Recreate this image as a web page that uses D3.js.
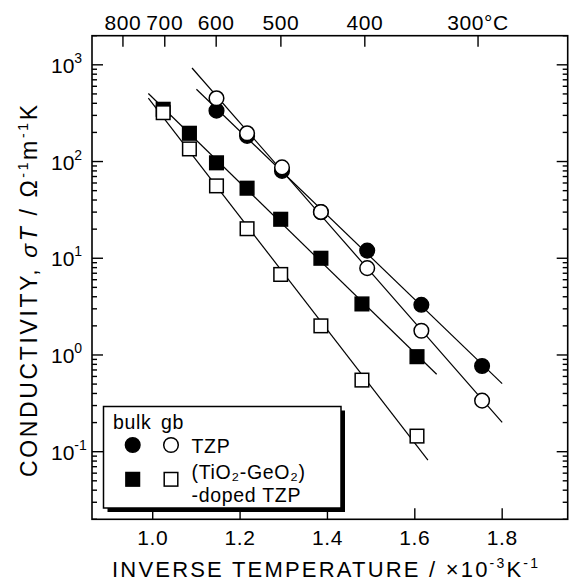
<!DOCTYPE html>
<html>
<head>
<meta charset="utf-8">
<script src="https://cdn.jsdelivr.net/npm/d3@7"></script>
<style>
  body { margin: 0; background: #fff; }
  svg { display: block; font-family: 'Liberation Sans', Arial, Helvetica, sans-serif; }
</style>
</head>
<body>
<div id="chart"></div>
<script>
// inverse temperature (1000/T, K^-1) of the measurements
const tzpInvT = [1.146, 1.216, 1.296, 1.385, 1.491, 1.615, 1.754];
const tzpBulk = [336, 184, 80, 30, 12.0, 3.3, 0.77];
const tzpGb = [451, 196, 87, 30.1, 7.9, 1.78, 0.337];

const dopedInvT = [1.024, 1.084, 1.146, 1.216, 1.293, 1.385, 1.479, 1.605];
const dopedBulk = [347, 196, 97, 53, 25.3, 10.0, 3.37, 0.96];
const dopedGb = [320, 135, 56, 20.2, 6.8, 2.0, 0.55, 0.145];

// x-extent of each Arrhenius fit line: tzp bulk, tzp gb, doped bulk, doped gb
const fitStart = [1.10, 1.09, 0.99, 0.99];
const fitEnd = [1.80, 1.80, 1.65, 1.63];

const xTicks = [1.0, 1.2, 1.4, 1.6, 1.8];
const celsiusTicks = [800, 700, 600, 500, 400, 300];
const celsiusLabels = ['800', '700', '600', '500', '400', '300°C'];
const yMajor = [0.1, 1, 10, 100, 1000];
const yExp = ['-1', '0', '1', '2', '3'];

const W = 572;
const H = 581;
const margin = { left: 92, right: 4.3, top: 35.7, bottom: 61.7 };

const svg = d3.select('#chart')
  .append('svg')
  .attr('width', W)
  .attr('height', H);

const x = d3.scaleLinear()
  .domain([0.861, 1.95])
  .range([margin.left, W - margin.right]);

const y = d3.scaleLog()
  .domain([0.02, 2000])
  .range([H - margin.bottom, margin.top]);

const x0 = x.range()[0];
const x1 = x.range()[1];
const y0 = y.range()[0];
const y1 = y.range()[1];

// ticks (all pointing inward)
const tickG = svg.append('g')
  .attr('stroke', '#000')
  .attr('stroke-width', 1.4);

const minor = y.ticks().filter(v => {
  const m = v / Math.pow(10, Math.floor(Math.log10(v) + 1e-9));
  return Math.abs(m - 1) > 1e-6;
});

minor.forEach(v => {
  tickG.append('line').attr('x1', x0).attr('x2', x0 + 5).attr('y1', y(v)).attr('y2', y(v));
  tickG.append('line').attr('x1', x1).attr('x2', x1 - 5).attr('y1', y(v)).attr('y2', y(v));
});
yMajor.forEach(v => {
  tickG.append('line').attr('x1', x0).attr('x2', x0 + 11).attr('y1', y(v)).attr('y2', y(v));
  tickG.append('line').attr('x1', x1).attr('x2', x1 - 11).attr('y1', y(v)).attr('y2', y(v));
});
xTicks.forEach(v => {
  tickG.append('line').attr('x1', x(v)).attr('x2', x(v)).attr('y1', y0).attr('y2', y0 - 11);
});
celsiusTicks.forEach(c => {
  const v = 1000 / (c + 273.15);
  tickG.append('line').attr('x1', x(v)).attr('x2', x(v)).attr('y1', y1).attr('y2', y1 + 11);
});

// frame
svg.append('rect')
  .attr('x', x0)
  .attr('y', y1)
  .attr('width', x1 - x0)
  .attr('height', y0 - y1)
  .attr('fill', 'none')
  .attr('stroke', '#000')
  .attr('stroke-width', 1.6);

// tick labels
svg.append('g')
  .selectAll('text')
  .data(xTicks)
  .enter()
  .append('text')
  .attr('x', d => x(d))
  .attr('y', 545)
  .attr('text-anchor', 'middle')
  .attr('font-size', 21)
  .attr('letter-spacing', 0.6)
  .text(d => d.toFixed(1));

svg.append('g')
  .selectAll('text')
  .data(celsiusTicks)
  .enter()
  .append('text')
  .attr('x', d => x(1000 / (d + 273.15)))
  .attr('y', 29.5)
  .attr('text-anchor', 'middle')
  .attr('font-size', 21)
  .attr('letter-spacing', 0.6)
  .text((d, i) => celsiusLabels[i]);

yMajor.forEach((v, i) => {
  const t = svg.append('text')
    .attr('x', 51)
    .attr('y', y(v) + 8)
    .attr('font-size', 21)
    .text('10');
  t.append('tspan')
    .attr('dy', -10)
    .attr('font-size', 14)
    .text(yExp[i]);
});

// axis titles
const xt = svg.append('text')
  .attr('x', 112)
  .attr('y', 577)
  .attr('font-size', 22)
  .attr('textLength', 426)
  .attr('lengthAdjust', 'spacing');
xt.append('tspan').text('INVERSE TEMPERATURE / ×10');
xt.append('tspan').attr('dy', -9).attr('font-size', 14).text('-3');
xt.append('tspan').attr('dy', 9).text('K');
xt.append('tspan').attr('dy', -9).attr('font-size', 14).text('-1');

const yt = svg.append('text')
  .attr('transform', 'translate(37,477) rotate(-90)')
  .attr('font-size', 23)
  .attr('textLength', 372)
  .attr('lengthAdjust', 'spacing');
yt.append('tspan').text('CONDUCTIVITY, ');
yt.append('tspan').attr('font-style', 'italic').text('σT');
yt.append('tspan').text(' / Ω');
yt.append('tspan').attr('dy', -9).attr('font-size', 14).text('-1');
yt.append('tspan').attr('dy', 9).text('m');
yt.append('tspan').attr('dy', -9).attr('font-size', 14).text('-1');
yt.append('tspan').attr('dy', 9).text('K');

// Arrhenius fit lines (least squares on log10 of the points)
function fit(xs, ys) {
  const ly = ys.map(v => Math.log10(v));
  const mx = d3.mean(xs);
  const my = d3.mean(ly);
  const b = d3.sum(xs, (v, i) => (v - mx) * (ly[i] - my)) / d3.sum(xs, v => (v - mx) * (v - mx));
  return v => Math.pow(10, my + b * (v - mx));
}

const series = [
  { xs: tzpInvT, ys: tzpBulk, shape: 'circle', fill: '#000' },
  { xs: tzpInvT, ys: tzpGb, shape: 'circle', fill: '#fff' },
  { xs: dopedInvT, ys: dopedBulk, shape: 'square', fill: '#000' },
  { xs: dopedInvT, ys: dopedGb, shape: 'square', fill: '#fff' },
];

const line = d3.line()
  .x(d => x(d[0]))
  .y(d => y(d[1]));

const lineG = svg.append('g')
  .attr('fill', 'none')
  .attr('stroke', '#000')
  .attr('stroke-width', 1.2);

series.forEach((s, i) => {
  const f = fit(s.xs, s.ys);
  lineG.append('path')
    .attr('d', line([[fitStart[i], f(fitStart[i])], [fitEnd[i], f(fitEnd[i])]]));
});

// markers: bulk first, gb drawn on top
const markG = svg.append('g');
function drawMark(g, shape, cx, cy, fill) {
  if (shape === 'circle') {
    g.append('circle')
      .attr('cx', cx)
      .attr('cy', cy)
      .attr('r', 7.3)
      .attr('fill', fill)
      .attr('stroke', '#000')
      .attr('stroke-width', 1.5);
  } else {
    g.append('rect')
      .attr('x', cx - 6.8)
      .attr('y', cy - 6.8)
      .attr('width', 13.6)
      .attr('height', 13.6)
      .attr('fill', fill)
      .attr('stroke', '#000')
      .attr('stroke-width', 1.5);
  }
}

[2, 3, 0, 1].forEach(i => {
  const s = series[i];
  s.xs.forEach((v, j) => drawMark(markG, s.shape, x(v), y(s.ys[j]), s.fill));
});

// legend
const lg = svg.append('g');
lg.append('rect')
  .attr('x', 107.5)
  .attr('y', 410.5)
  .attr('width', 237.5)
  .attr('height', 101.5)
  .attr('fill', '#000');
lg.append('rect')
  .attr('x', 103.5)
  .attr('y', 406.5)
  .attr('width', 237.5)
  .attr('height', 101.5)
  .attr('fill', '#fff')
  .attr('stroke', '#000')
  .attr('stroke-width', 1.5);

const legendFont = 19.5;
lg.append('text').attr('x', 113).attr('y', 428.5).attr('font-size', legendFont).attr('letter-spacing', 0.7).text('bulk');
lg.append('text').attr('x', 161).attr('y', 428.5).attr('font-size', legendFont).attr('letter-spacing', 0.7).text('gb');
drawMark(lg, 'circle', 132.7, 445, '#000');
drawMark(lg, 'circle', 171, 445, '#fff');
drawMark(lg, 'square', 132.7, 479.3, '#000');
drawMark(lg, 'square', 171, 479.3, '#fff');
lg.append('text').attr('x', 191.5).attr('y', 453).attr('font-size', legendFont).attr('letter-spacing', 0.7).text('TZP');
lg.append('text').attr('x', 191.5).attr('y', 479).attr('font-size', legendFont).attr('letter-spacing', 0.7).text('(TiO₂-GeO₂)');
lg.append('text').attr('x', 191.5).attr('y', 501.5).attr('font-size', legendFont).attr('letter-spacing', 0.7).text('-doped TZP');
</script>
</body>
</html>
